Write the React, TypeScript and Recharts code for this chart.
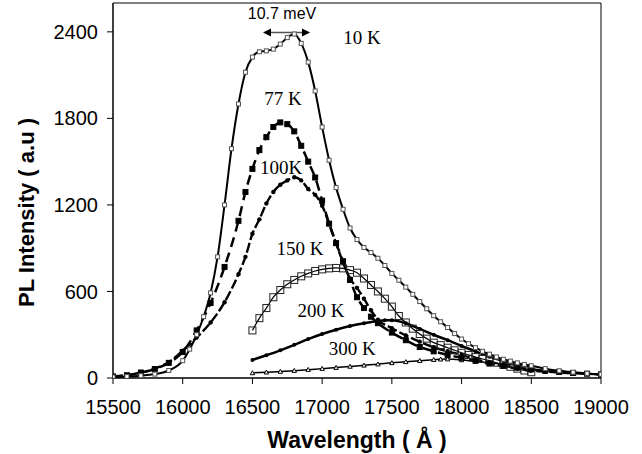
import React from 'react';
import {
  LineChart,
  Line,
  XAxis,
  YAxis,
  ReferenceArea,
  ReferenceDot,
  ReferenceLine,
} from 'recharts';

// wavelength (Å) / PL intensity (a.u)
const wl10 = [15500, 15600, 15700, 15800, 15900, 16000, 16050, 16100, 16150, 16200, 16250, 16300, 16350, 16400, 16450, 16500, 16550, 16600, 16650, 16700, 16750, 16800, 16850, 16900, 16950, 17000, 17050, 17100, 17150, 17200, 17250, 17300, 17350, 17400, 17450, 17500, 17550, 17600, 17650, 17700, 17750, 17800, 17850, 17900, 17950, 18000, 18050, 18100, 18150, 18200, 18250, 18300, 18350, 18400, 18450, 18500, 18600, 18700, 18800, 18900, 19000];
const pl10 = [7, 10, 16, 27, 52, 120, 200, 300, 425, 590, 840, 1200, 1590, 1900, 2120, 2225, 2262, 2268, 2280, 2315, 2360, 2385, 2320, 2190, 1990, 1740, 1510, 1320, 1170, 1040, 960, 905, 870, 830, 780, 725, 678, 630, 580, 530, 480, 432, 390, 350, 308, 270, 238, 210, 185, 165, 146, 130, 117, 105, 94, 85, 65, 50, 40, 32, 26];

const wl77 = [15500, 15600, 15700, 15800, 15900, 16000, 16100, 16200, 16300, 16400, 16450, 16500, 16550, 16600, 16650, 16700, 16750, 16800, 16850, 16900, 16950, 17000, 17050, 17100, 17150, 17200, 17250, 17300, 17350, 17400, 17500, 17600, 17700, 17800, 17900, 18000, 18100, 18200, 18300, 18400, 18500, 18600, 18700, 18800, 18900, 19000];
const pl77 = [11, 19, 38, 62, 105, 180, 330, 520, 770, 1090, 1290, 1450, 1580, 1670, 1740, 1772, 1760, 1710, 1610, 1500, 1390, 1230, 1070, 935, 810, 680, 560, 485, 425, 380, 315, 262, 215, 185, 160, 140, 120, 100, 85, 72, 60, 50, 42, 35, 30, 25];

const wl100 = [15500, 15600, 15700, 15800, 15900, 16000, 16100, 16200, 16300, 16400, 16450, 16500, 16550, 16600, 16650, 16700, 16750, 16800, 16850, 16900, 16950, 17000, 17050, 17100, 17150, 17200, 17250, 17300, 17350, 17400, 17500, 17600, 17700, 17800, 17900, 18000, 18100, 18200, 18300, 18400, 18500, 18600, 18700, 18800, 18900, 19000];
const pl100 = [10, 20, 35, 65, 110, 190, 280, 385, 525, 720, 840, 1000, 1100, 1210, 1290, 1340, 1370, 1392, 1370, 1310, 1270, 1195, 1070, 935, 800, 690, 625, 550, 470, 405, 345, 295, 252, 213, 185, 160, 130, 105, 82, 65, 52, 44, 38, 33, 29, 25];

const wl150 = [16500, 16550, 16600, 16650, 16700, 16750, 16800, 16850, 16900, 16950, 17000, 17050, 17100, 17150, 17200, 17250, 17300, 17350, 17400, 17450, 17500, 17550, 17600, 17650, 17700, 17750, 17800, 17850, 17900, 17950, 18000, 18050, 18100, 18150, 18200, 18250, 18300, 18350, 18400, 18450, 18500];
const pl150 = [330, 415, 485, 560, 610, 650, 680, 705, 725, 742, 753, 760, 763, 760, 748, 730, 690, 645, 600, 550, 495, 430, 385, 342, 305, 273, 245, 228, 210, 192, 175, 160, 145, 132, 120, 106, 92, 78, 65, 52, 40];

const wl200 = [16500, 16600, 16700, 16800, 16900, 17000, 17100, 17200, 17300, 17400, 17450, 17500, 17600, 17700, 17800, 17900, 18000, 18100, 18200, 18300, 18400, 18500];
const pl200 = [125, 158, 192, 230, 270, 305, 335, 360, 380, 395, 400, 400, 380, 340, 300, 262, 222, 185, 148, 118, 98, 85];

const wl300 = [16500, 16600, 16700, 16800, 16900, 17000, 17100, 17200, 17300, 17400, 17500, 17600, 17700, 17800, 17850, 17900, 18000, 18100, 18200, 18300, 18400, 18500];
const pl300 = [35, 40, 45, 51, 58, 65, 72, 80, 88, 96, 105, 112, 120, 127, 130, 131, 125, 115, 105, 96, 88, 80];

const xTicks = [15500, 16000, 16500, 17000, 17500, 18000, 18500, 19000];
const yTicks = [0, 600, 1200, 1800, 2400];

const zip = (xs: number[], ys: number[]) => xs.map((x, i) => ({ x, y: ys[i] }));

const d10 = zip(wl10, pl10);
const d77 = zip(wl77, pl77);
const d100 = zip(wl100, pl100);
const d150 = zip(wl150, pl150);
const d200 = zip(wl200, pl200);
const d300 = zip(wl300, pl300);

const sans = '"Liberation Sans", Arial, sans-serif';
const tickFont = { fontFamily: sans, fontSize: 20, fill: '#000' };
const tempFont = { fontFamily: '"Liberation Serif", "Times New Roman", serif', fontSize: 19, fill: '#000' };

const square = (size: number, fill: string, stroke: string, sw = 1) => (p: any) => (
  <rect
    key={`sq-${p.index}`}
    x={p.cx - size / 2}
    y={p.cy - size / 2}
    width={size}
    height={size}
    fill={fill}
    stroke={stroke}
    strokeWidth={sw}
  />
);

const circle = (r: number) => (p: any) => (
  <circle key={`c-${p.index}`} cx={p.cx} cy={p.cy} r={r} fill="#000" />
);

const triangle = (s: number) => (p: any) => (
  <path
    key={`t-${p.index}`}
    d={`M${p.cx - s} ${p.cy + s * 0.8} L${p.cx + s} ${p.cy + s * 0.8} L${p.cx} ${p.cy - s} Z`}
    fill="#fff"
    stroke="#000"
    strokeWidth={1}
  />
);

const arrowHead = (dir: number) => (p: any) => (
  <path
    d={`M${p.cx} ${p.cy} L${p.cx - dir * 8} ${p.cy - 4} L${p.cx - dir * 8} ${p.cy + 4} Z`}
    fill="#000"
  />
);

const tempLabel = (text: string, x: number, y: number) => (
  <ReferenceDot
    x={x}
    y={y}
    r={0}
    fill="none"
    stroke="none"
    label={{ value: text, position: 'center', ...tempFont }}
  />
);

export default function App() {
  return (
    <div style={{ position: 'absolute', left: 0, top: 0, width: 642, height: 454, background: '#fff' }}>
      <LineChart width={642} height={454} margin={{ top: 3, right: 41, left: 0, bottom: 0 }}>
        <XAxis
          type="number"
          dataKey="x"
          domain={[15500, 19000]}
          ticks={xTicks}
          allowDataOverflow
          stroke="#000"
          tickSize={6}
          tickMargin={16}
          height={76}
          tick={tickFont}
          label={{
            value: 'Wavelength ( Å )',
            position: 'insideBottom',
            offset: 6,
            fontFamily: sans,
            fontSize: 23,
            fontWeight: 'bold',
            fill: '#000',
          }}
        />
        <YAxis
          type="number"
          dataKey="y"
          domain={[0, 2600]}
          ticks={yTicks}
          allowDataOverflow
          stroke="#000"
          tickSize={6}
          tickMargin={9}
          width={113}
          tick={tickFont}
          label={{
            content: (props: any) => {
              const vb = props.viewBox;
              const cx = vb.x + 26;
              const cy = vb.y + vb.height / 2 + 22;
              return (
                <text
                  x={cx}
                  y={cy}
                  transform={`rotate(-90, ${cx}, ${cy})`}
                  textAnchor="middle"
                  dominantBaseline="central"
                  fontFamily={sans}
                  fontSize={22}
                  fontWeight="bold"
                  fill="#000"
                >
                  PL Intensity ( a.u )
                </text>
              );
            },
          }}
        />
        <ReferenceArea x1={15500} x2={19000} y1={0} y2={2600} fill="none" stroke="#000" strokeWidth={1} />

        <Line data={d300} dataKey="y" type="monotone" stroke="#000" strokeWidth={1.5} dot={triangle(2.2)} isAnimationActive={false} />
        <Line data={d200} dataKey="y" type="monotone" stroke="#000" strokeWidth={2.5} dot={circle(2)} isAnimationActive={false} />
        <Line data={d150} dataKey="y" type="monotone" stroke="#000" strokeWidth={1.2} dot={square(7, 'none', '#222')} isAnimationActive={false} />
        <Line data={d100} dataKey="y" type="monotone" stroke="#000" strokeWidth={2.4} strokeDasharray="10 3" dot={circle(2.2)} isAnimationActive={false} />
        <Line data={d77} dataKey="y" type="monotone" stroke="#000" strokeWidth={2.5} strokeDasharray="10 6" dot={square(5, '#000', '#000')} isAnimationActive={false} />
        <Line data={d10} dataKey="y" type="monotone" stroke="#000" strokeWidth={2} dot={square(4, '#fff', '#555')} isAnimationActive={false} />

        <ReferenceLine
          segment={[{ x: 16590, y: 2395 }, { x: 16900, y: 2395 }]}
          stroke="#555"
          strokeWidth={1.5}
        />
        <ReferenceDot x={16576} y={2395} r={0} shape={arrowHead(-1)} />
        <ReferenceDot x={16913} y={2395} r={0} shape={arrowHead(1)} />
        <ReferenceDot
          x={16712}
          y={2531}
          r={0}
          fill="none"
          stroke="none"
          label={{ value: '10.7 meV', position: 'center', fontFamily: sans, fontSize: 16, fill: '#000' }}
        />
        {tempLabel('10 K', 17286, 2364)}
        {tempLabel('77 K', 16720, 1941)}
        {tempLabel('100K', 16705, 1463)}
        {tempLabel('150 K', 16842, 901)}
        {tempLabel('200 K', 16992, 471)}
        {tempLabel('300 K', 17215, 208)}
      </LineChart>
    </div>
  );
}
